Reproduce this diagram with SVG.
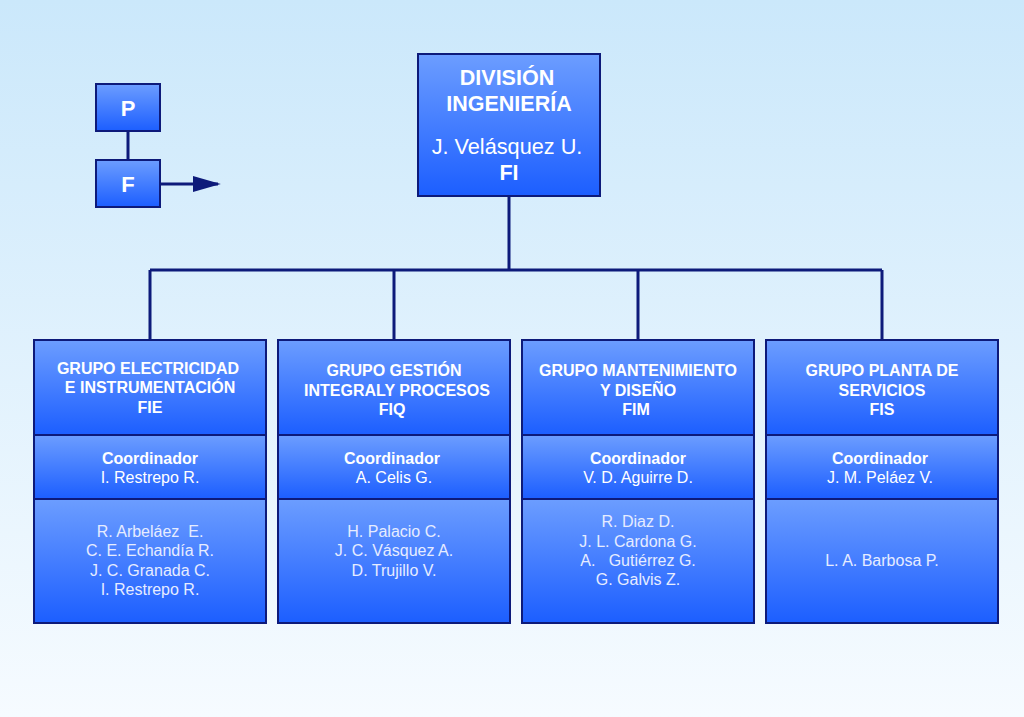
<svg xmlns="http://www.w3.org/2000/svg" width="1024" height="717" viewBox="0 0 1024 717">
<defs>
<linearGradient id="bg" x1="0" y1="0" x2="0" y2="1">
<stop offset="0" stop-color="#cbe8fb"/>
<stop offset="1" stop-color="#f6fbff"/>
</linearGradient>
<linearGradient id="box" x1="0" y1="0" x2="0" y2="1">
<stop offset="0" stop-color="#6c9dff"/>
<stop offset="1" stop-color="#1c5eff"/>
</linearGradient>
<marker id="arr" viewBox="0 0 10 10" refX="9" refY="5" markerWidth="28" markerHeight="16" markerUnits="userSpaceOnUse" orient="auto" preserveAspectRatio="none">
<path d="M0,0 L10,5 L0,10 Z" fill="#0d1a7a"/>
</marker>
</defs>
<style>
.b{fill:url(#box);stroke:#0d1a7a;stroke-width:2}
.c{stroke:#0d1a7a;stroke-width:3;fill:none}
text{font-family:"Liberation Sans",Arial,sans-serif;fill:#fff;text-anchor:middle}
.h{font-weight:bold;font-size:16px}
.k{font-weight:bold;font-size:16px}
.n{font-size:16px}
.m{font-size:16px;fill:#e6ecff}
.t{font-weight:bold;font-size:21.5px}
.big{font-weight:bold;font-size:22px}
</style>
<rect width="1024" height="717" fill="url(#bg)"/>
<g id="connectors">
<path class="c" d="M509,196 V270 M150,270 H882 M150,270 V340 M394,270 V340 M638,270 V340 M882,270 V340"/>
<path class="c" d="M128,131 V160"/>
<path class="c" d="M160,184 H218" marker-end="url(#arr)"/>
</g>
<g id="legend-p">
<rect class="b" x="96" y="84" width="64" height="47"/>
<text class="big" x="128" y="116">P</text>
</g>
<g id="legend-f">
<rect class="b" x="96" y="160" width="64" height="47"/>
<text class="big" x="128" y="192">F</text>
</g>
<g id="division">
<rect class="b" x="418" y="54" width="182" height="142"/>
<text class="t" x="507" y="85">DIVISIÓN</text>
<text class="t" x="509" y="111">INGENIERÍA</text>
<text x="507" y="154" font-size="21.7">J. Velásquez U.</text>
<text class="t" x="509" y="180">FI</text>
</g>
<g id="fie">
<rect class="b" x="34" y="340" width="232" height="95"/>
<rect class="b" x="34" y="435" width="232" height="64"/>
<rect class="b" x="34" y="499" width="232" height="124"/>
<text class="h" x="148" y="374">GRUPO ELECTRICIDAD</text>
<text class="h" x="150" y="393">E INSTRUMENTACIÓN</text>
<text class="h" x="150" y="413">FIE</text>
<text class="k" x="150" y="464">Coordinador</text>
<text class="n" x="150" y="483">I. Restrepo R.</text>
<text class="m" x="150" y="537" xml:space="preserve">R. Arbeláez  E.</text>
<text class="m" x="150" y="556">C. E. Echandía R.</text>
<text class="m" x="150" y="576">J. C. Granada C.</text>
<text class="m" x="150" y="595">I. Restrepo R.</text>
</g>
<g id="fiq">
<rect class="b" x="278" y="340" width="232" height="95"/>
<rect class="b" x="278" y="435" width="232" height="64"/>
<rect class="b" x="278" y="499" width="232" height="124"/>
<text class="h" x="394" y="376">GRUPO GESTIÓN</text>
<text class="h" x="397" y="396">INTEGRALY PROCESOS</text>
<text class="h" x="392" y="415">FIQ</text>
<text class="k" x="392" y="464">Coordinador</text>
<text class="n" x="394" y="483">A. Celis G.</text>
<text class="m" x="394" y="537">H. Palacio C.</text>
<text class="m" x="394" y="556">J. C. Vásquez A.</text>
<text class="m" x="394" y="576">D. Trujillo V.</text>
</g>
<g id="fim">
<rect class="b" x="522" y="340" width="232" height="95"/>
<rect class="b" x="522" y="435" width="232" height="64"/>
<rect class="b" x="522" y="499" width="232" height="124"/>
<text class="h" x="638" y="376">GRUPO MANTENIMIENTO</text>
<text class="h" x="638" y="396">Y DISEÑO</text>
<text class="h" x="636" y="415">FIM</text>
<text class="k" x="638" y="464">Coordinador</text>
<text class="n" x="638" y="483">V. D. Aguirre D.</text>
<text class="m" x="638" y="527">R. Diaz D.</text>
<text class="m" x="638" y="547">J. L. Cardona G.</text>
<text class="m" x="638" y="566" xml:space="preserve">A.   Gutiérrez G.</text>
<text class="m" x="638" y="585">G. Galvis Z.</text>
</g>
<g id="fis">
<rect class="b" x="766" y="340" width="232" height="95"/>
<rect class="b" x="766" y="435" width="232" height="64"/>
<rect class="b" x="766" y="499" width="232" height="124"/>
<text class="h" x="882" y="376">GRUPO PLANTA DE</text>
<text class="h" x="882" y="396">SERVICIOS</text>
<text class="h" x="882" y="415">FIS</text>
<text class="k" x="880" y="464">Coordinador</text>
<text class="n" x="880" y="483">J. M. Peláez V.</text>
<text class="m" x="882" y="566">L. A. Barbosa P.</text>
</g>
</svg>
